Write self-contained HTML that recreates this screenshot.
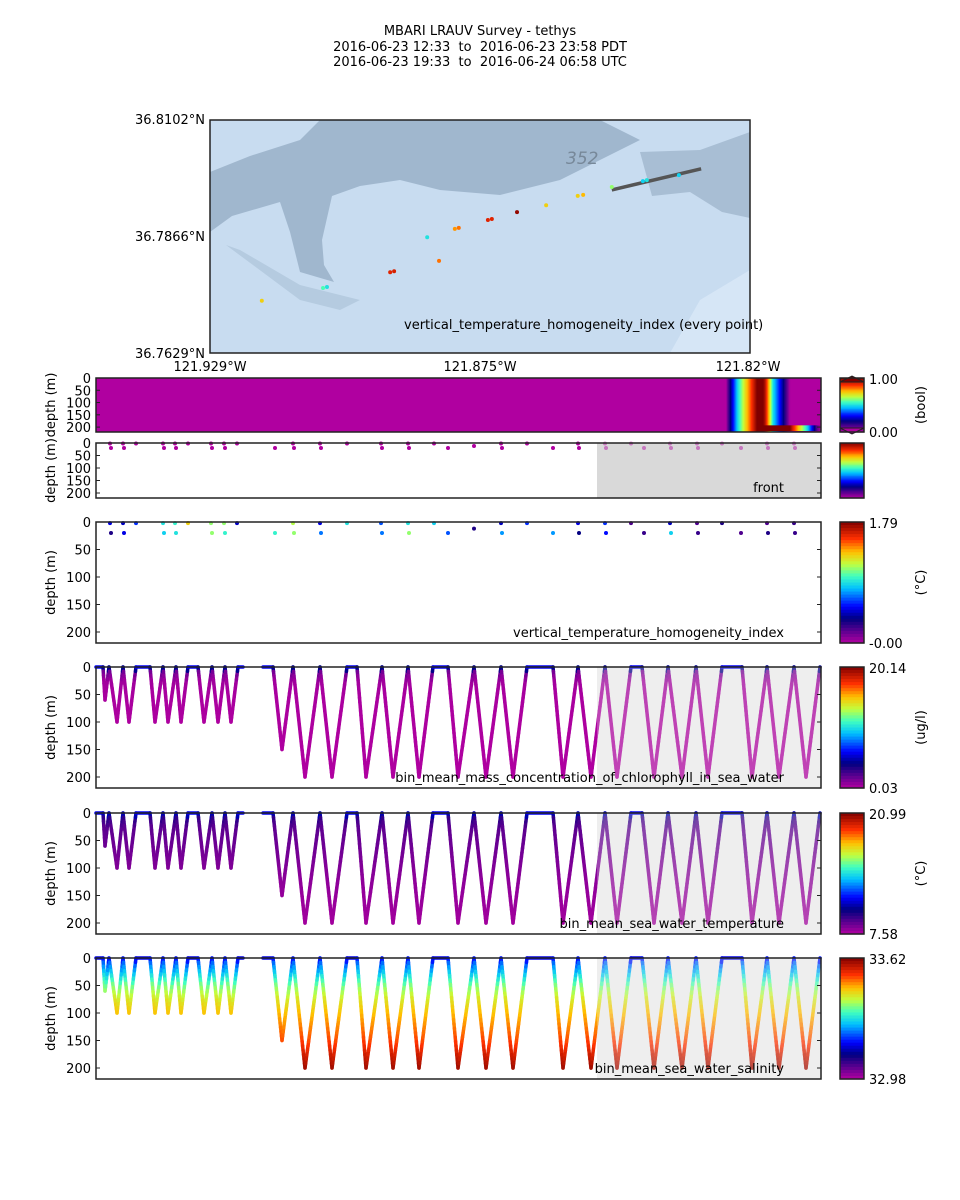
<!DOCTYPE html>
<html><head><meta charset="utf-8">
<style>
html,body{margin:0;padding:0;background:#fff;}
svg{display:block;font-family:"DejaVu Sans","Liberation Sans",sans-serif;}
text{white-space:pre;}
</style></head>
<body>
<svg id="fig" width="960" height="1200" viewBox="0 0 960 1200" xmlns="http://www.w3.org/2000/svg">
<g font-size="13" text-anchor="middle" fill="#000">
<text x="480" y="35" xml:space="preserve">MBARI LRAUV Survey - tethys</text>
<text x="480" y="51" xml:space="preserve">2016-06-23 12:33  to  2016-06-23 23:58 PDT</text>
<text x="480" y="66" xml:space="preserve">2016-06-23 19:33  to  2016-06-24 06:58 UTC</text>
</g>
<g id="map">
<rect x="210" y="120" width="540" height="233" fill="#c8dcf0"/>
<polygon fill="#a0b7ce" points="210,172 250,156 300,140 320,120 600,120 640,140 600,160 560,180 500,195 440,190 400,180 360,186 332,196 322,240 324,265 334,282 300,272 290,232 280,202 232,216 210,232"/>
<polygon fill="#a8bed4" points="640,152 700,150 750,132 750,218 722,212 690,192 652,196"/>
<polygon fill="#d6e6f6" points="670,353 700,300 750,270 750,353"/>
<polygon fill="#b5cbe0" points="226,245 300,300 340,310 360,300 300,285 240,250"/>
<text x="566" y="164" font-size="17" font-style="italic" fill="#778899">352</text>
<g id="mapmarks"></g>
<text x="404" y="329" font-size="13">vertical_temperature_homogeneity_index (every point)</text>
<rect x="210" y="120" width="540" height="233" fill="none" stroke="#222" stroke-width="1.5"/>
</g>
<g font-size="13" text-anchor="end">
<text x="205" y="124">36.8102°N</text><text x="205" y="241">36.7866°N</text><text x="205" y="358">36.7629°N</text>
</g>
<g font-size="13" text-anchor="middle">
<text x="210" y="371">121.929°W</text><text x="480" y="371">121.875°W</text><text x="748" y="371">121.82°W</text>
</g>
<g id="panels"></g>
</svg>
<script>
// ---------- data ----------
const mapLon=[121.9185,121.9061,121.9053,121.8925,121.8917,121.8850,121.8826,121.8794,121.8786,121.8727,121.8719,121.8668,121.8609,121.8545,121.8534,121.8476,121.8413,121.8405,121.8340];
const mapLat=[36.7735,36.7761,36.7763,36.7793,36.7795,36.7864,36.7816,36.7881,36.7883,36.7899,36.7901,36.7915,36.7929,36.7948,36.7950,36.7966,36.7978,36.7980,36.7990];
const mapVal=[1.3,1.0,0.9,1.6,1.62,0.9,1.45,1.4,1.45,1.6,1.6,1.75,1.3,1.3,1.35,1.1,0.85,0.9,0.85];
const trackLon=[121.8476,121.8295];
const trackLat=[36.7960,36.8003];

const segA_t=[0,7,9,13,21,27,33,40,54,59,67,72,80,85,92,102,108,116,122,129,135,142,147];
const segA_d=[0,0,60,0,100,0,100,0,0,100,0,100,0,100,0,0,100,0,100,0,100,0,0];
const segB_t=[167,177,186,197,209,224,236,251,261,270,286,297,312,323,337,352,362,378,390,405,417,431,457,467,482,495,509,521,535,546,558,572,586,600,612,626,646,656,671,683,698,710,724];
const segB_d=[0,0,150,0,200,0,200,0,0,200,0,200,0,200,0,0,200,0,200,0,200,0,0,200,0,200,0,200,0,0,200,0,200,0,200,0,0,200,0,200,0,200,0];

const profDepth=[0,10,25,50,75,100,125,150,175,200];
const chlVals=[6.0,1.5,0.4,0.2,0.15,0.1,0.1,0.08,0.06,0.05];
const tempVals=[11.5,9.6,8.9,8.7,8.5,8.3,8.1,8.0,7.9,7.8];
const salVals=[33.16,33.22,33.27,33.36,33.42,33.46,33.49,33.52,33.56,33.60];

const dotT=[14,15,27,28,40,67,68,79,80,92,115,116,128,129,141,179,197,198,224,225,251,285,286,312,313,338,352,378,405,406,431,457,482,483,509,510,535,548,574,575,601,602,626,645,671,672,698,699];
const dotD=[2,20,2,20,2,2,20,2,20,2,2,20,2,20,2,20,2,20,2,20,2,2,20,2,20,2,20,12,2,20,2,20,2,20,2,20,2,20,2,20,2,20,2,20,2,20,2,20];
const dotV=[0.5,0.3,0.45,0.5,0.6,0.9,0.85,0.95,0.9,1.3,1.1,1.1,1.1,0.95,0.45,0.95,1.15,1.1,0.5,0.7,0.9,0.65,0.7,0.9,1.1,0.85,0.65,0.3,0.45,0.75,0.6,0.75,0.5,0.35,0.6,0.55,0.2,0.25,0.45,0.85,0.2,0.25,0.3,0.2,0.2,0.3,0.25,0.25];

const heatT=[630,632,637,642,649,654,659,661,667,669,672,677,684,691,694];
const heatV=[0,0.1,0.3,0.5,0.7,0.82,0.95,1,1,0.95,0.8,0.5,0.3,0.1,0];
const heatBotT=[662,694,697,704,711,716,721,725];
const heatBotV=[1,1,0.9,0.7,0.5,0.3,0.1,0];

const depthTicks=[0,50,100,150,200];

// ---------- helpers ----------
const NS="http://www.w3.org/2000/svg";
const stops=[[0,[176,0,160]],[0.1,[90,0,144]],[0.2,[0,0,128]],[0.3,[0,0,255]],[0.45,[0,192,255]],[0.55,[64,255,192]],[0.65,[192,255,64]],[0.75,[255,192,0]],[0.86,[255,48,0]],[1,[128,0,0]]];
function cmap(v){v=Math.max(0,Math.min(1,v));for(let i=1;i<stops.length;i++){if(v<=stops[i][0]){const a=stops[i-1],b=stops[i];const f=(v-a[0])/(b[0]-a[0]);const c=a[1].map((x,k)=>Math.round(x+(b[1][k]-x)*f));return `rgb(${c[0]},${c[1]},${c[2]})`;}}return 'rgb(128,0,0)';}
function interp(xs,ys,x){if(x<=xs[0])return ys[0];for(let i=1;i<xs.length;i++){if(x<=xs[i]){const f=(x-xs[i-1])/(xs[i]-xs[i-1]);return ys[i-1]+(ys[i]-ys[i-1])*f;}}return ys[ys.length-1];}
function mk(tag,attrs,parent){const e=document.createElementNS(NS,tag);for(const k in attrs)e.setAttribute(k,attrs[k]);if(parent)parent.appendChild(e);return e;}
const xS=t=>96+t*(725/725);
const X0=96,X1=821;

// ---------- map marks ----------
const lonX=lon=>210+(121.929-lon)*4936;
const latY=lat=>120+(36.8102-lat)*4926;
const mm=document.getElementById('mapmarks');
const tr=mk('line',{x1:lonX(trackLon[0]),y1:latY(trackLat[0]),x2:lonX(trackLon[1]),y2:latY(trackLat[1]),stroke:'#555',"stroke-width":3.5},mm);


mapLon.forEach((lon,i)=>{const c=mk('circle',{cx:lonX(lon),cy:latY(mapLat[i]),r:2,fill:cmap(mapVal[i]/1.79)},mm);

});

// ---------- panels ----------
const panels=[
 {top:378,h:54,cb:{lo:'0.00',hi:'1.00',unit:'(bool)',ext:true},name:'front-heatmap'},
 {top:443,h:55,cb:{lo:'',hi:'',unit:''},label:'front',shade:'#d9d9d9',name:'front-points'},
 {top:522,h:121,cb:{lo:'-0.00',hi:'1.79',unit:'(\u00B0C)'},label:'vertical_temperature_homogeneity_index',name:'vthi-points'},
 {top:667,h:121,cb:{lo:'0.03',hi:'20.14',unit:'(ug/l)'},label:'bin_mean_mass_concentration_of_chlorophyll_in_sea_water',shade:'#efefef',name:'chlorophyll-section',vals:chlVals,vmin:0.03,vmax:20.14},
 {top:813,h:121,cb:{lo:'7.58',hi:'20.99',unit:'(\u00B0C)'},label:'bin_mean_sea_water_temperature',shade:'#efefef',name:'temperature-section',vals:tempVals,vmin:7.58,vmax:20.99},
 {top:958,h:121,cb:{lo:'32.98',hi:'33.62',unit:''},label:'bin_mean_sea_water_salinity',shade:'#efefef',name:'salinity-section',vals:salVals,vmin:32.98,vmax:33.62}
];
const root=document.getElementById('panels');
panels.forEach((p,pi)=>{
 const g=mk('g',{},root);
 
 
 const yS=d=>p.top+d*p.h/220;
 if(p.shade) mk('rect',{x:xS(501),y:p.top,width:X1-xS(501),height:p.h,fill:p.shade},g);
 if(pi===0){
  mk('rect',{x:X0,y:p.top,width:X1-X0,height:p.h,fill:cmap(0)},g);
  for(let t=heatT[0];t<heatT[heatT.length-1];t++){
   const r=mk('rect',{x:xS(t),y:p.top,width:1.3,height:p.h,fill:cmap(interp(heatT,heatV,t+0.5))},g);
   
   
  }
  for(let t=heatBotT[0];t<heatBotT[heatBotT.length-1];t++){
   const r=mk('rect',{x:xS(t),y:yS(193),width:1.3,height:yS(220)-yS(193)-1,fill:cmap(interp(heatBotT,heatBotV,t+0.5))},g);
   
   
  }
 }
 if(pi===1||pi===2){
  dotT.forEach((t,i)=>{
   let fill=pi===1?cmap(0):cmap(dotV[i]/1.79);
   let op=(pi===1&&t>=501)?0.45:1;
   const c=mk('circle',{cx:xS(t),cy:yS(dotD[i]),r:2,fill:fill,"fill-opacity":op},g);
   
   
  });
 }
 if(p.vals){
  const lg=mk('g',{"stroke-width":3.5,"stroke-linecap":"round"},g);
  [[segA_t,segA_d],[segB_t,segB_d]].forEach(([ts,ds])=>{
   for(let i=1;i<ts.length;i++){
    const n=Math.max(1,Math.ceil(Math.abs(ds[i]-ds[i-1])/8));
    for(let k=0;k<n;k++){
     const f0=k/n,f1=(k+1)/n;
     const t0=ts[i-1]+(ts[i]-ts[i-1])*f0,t1=ts[i-1]+(ts[i]-ts[i-1])*f1;
     const d0=ds[i-1]+(ds[i]-ds[i-1])*f0,d1=ds[i-1]+(ds[i]-ds[i-1])*f1;
     const v=interp(profDepth,p.vals,(d0+d1)/2);
     const s=mk('line',{x1:xS(t0),y1:yS(d0),x2:xS(t1),y2:yS(d1),stroke:cmap((v-p.vmin)/(p.vmax-p.vmin))},lg);
     
     
    }
   }
  });
  mk('rect',{x:xS(501),y:p.top,width:X1-xS(501),height:p.h,fill:'#eeeeee','fill-opacity':0.28},g);
 }
 if(p.label){const tx=mk('text',{x:784,y:p.top+p.h-6,"font-size":13,"text-anchor":"end"},g);tx.textContent=p.label;
  
  }
 // ticks
 depthTicks.forEach(d=>{
  mk('line',{x1:X0,x2:X0+4,y1:yS(d),y2:yS(d),stroke:'#222'},g);
  mk('line',{x1:X1-4,x2:X1,y1:yS(d),y2:yS(d),stroke:'#222'},g);
  const tl=mk('text',{x:91,y:yS(d)+5,"font-size":13,"text-anchor":"end"},g);tl.textContent=d;
  
  
 });
 mk('rect',{x:X0,y:p.top,width:X1-X0,height:p.h,fill:'none',stroke:'#222',"stroke-width":1.5},g);
 const yl=mk('text',{x:0,y:0,"font-size":13,"text-anchor":"middle",transform:`translate(55,${p.top+p.h/2}) rotate(-90)`},g);yl.textContent='depth (m)';
 
 
 // colorbar
 const cg=mk('g',{},g);
 
 
 const cx=840,cw=24;
 const steps=40;
 for(let k=0;k<steps;k++){
  const v=1-(k+0.5)/steps;
  mk('rect',{x:cx,y:p.top+k*p.h/steps,width:cw,height:p.h/steps+0.6,fill:cmap(v)},cg);
 }
 if(p.cb.ext){
  mk('polygon',{points:`${cx},${p.top+4} ${cx+cw/2},${p.top-2} ${cx+cw},${p.top+4}`,fill:cmap(1),stroke:'#222'},cg);
  mk('polygon',{points:`${cx},${p.top+p.h-4} ${cx+cw/2},${p.top+p.h+2} ${cx+cw},${p.top+p.h-4}`,fill:cmap(0),stroke:'#222'},cg);
 }
 mk('rect',{x:cx,y:p.top,width:cw,height:p.h,fill:'none',stroke:'#222',"stroke-width":1.5},cg);
 if(p.cb.hi){const t=mk('text',{x:869,y:p.top+6,"font-size":13},cg);t.textContent=p.cb.hi;}
 if(p.cb.lo){const t=mk('text',{x:869,y:p.top+p.h+5,"font-size":13},cg);t.textContent=p.cb.lo;}
 if(p.cb.unit){const t=mk('text',{x:0,y:0,"font-size":13,"text-anchor":"middle",transform:`translate(925,${p.top+p.h/2}) rotate(-90)`},cg);t.textContent=p.cb.unit;}
});
</script>
</body></html>
